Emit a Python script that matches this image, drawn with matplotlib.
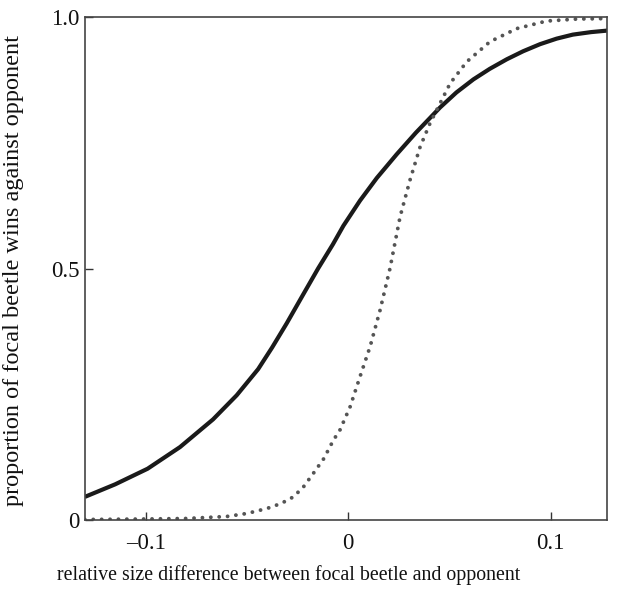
import matplotlib.pyplot as plt

plt.rcParams['font.family'] = ['Liberation Serif', 'DejaVu Serif']

# solid curve
solid_x = [-0.130, -0.115, -0.099, -0.083, -0.0667, -0.055, -0.0444, -0.0375, -0.0303,
           -0.0225, -0.0148, -0.0075, -0.0023, 0.0059, 0.0142, 0.024, 0.0335, 0.0454,
           0.0535, 0.0619, 0.070, 0.0784, 0.0865, 0.0948, 0.103, 0.111, 0.120, 0.128]
solid_y = [0.046, 0.071, 0.102, 0.145, 0.200, 0.248, 0.300, 0.343, 0.391,
           0.446, 0.500, 0.548, 0.585, 0.635, 0.680, 0.727, 0.770, 0.820,
           0.850, 0.876, 0.897, 0.916, 0.932, 0.946, 0.957, 0.965, 0.970, 0.973]

# dotted curve
dot_x = [-0.130, -0.100, -0.080, -0.070, -0.060, -0.050, -0.040, -0.033, -0.027, -0.022,
         -0.0171, -0.012, -0.0072, -0.004, 0.001, 0.0059, 0.0109, 0.0158, 0.0207, 0.0257,
         0.0306, 0.0356, 0.0405, 0.0454, 0.0504, 0.0586, 0.0701, 0.0833, 0.098, 0.113, 0.128]
dot_y = [0.001, 0.002, 0.003, 0.005, 0.007, 0.013, 0.023, 0.033, 0.046, 0.066,
         0.093, 0.122, 0.159, 0.179, 0.225, 0.285, 0.345, 0.417, 0.500, 0.603,
         0.676, 0.742, 0.789, 0.828, 0.868, 0.911, 0.951, 0.977, 0.992, 0.996, 0.997]

xticks = [-0.1, 0, 0.1]
xticklabels = ['\u20130.1', '0', '0.1']
yticks = [0, 0.5, 1.0]
yticklabels = ['0', '0.5', '1.0']

fig = plt.figure(figsize=(6.28, 5.89), dpi=100)
ax = fig.add_axes([0.1354, 0.1171, 0.8312, 0.854])

ax.plot(solid_x, solid_y, color='#1a1a1a', lw=3.0, solid_joinstyle='round',
        solid_capstyle='butt')
ax.plot(dot_x, dot_y, color='#555555', lw=2.8, linestyle=(0, (0.01, 2.15)),
        dash_capstyle='round')

ax.set_xlim(-0.1299, 0.1279)
ax.set_ylim(0, 1.0)
ax.set_xticks(xticks)
ax.set_xticklabels(xticklabels)
ax.set_yticks(yticks)
ax.set_yticklabels(yticklabels)
ax.tick_params(direction='in', length=6, width=1, colors='#333333', labelsize=16.5,
               labelcolor='#111111')
ax.tick_params(axis='x', pad=9)
ax.tick_params(axis='y', pad=4)
for s in ax.spines.values():
    s.set_color('#444444')
    s.set_linewidth(1.2)

fig.text(0.459, 0.0238, 'relative size difference between focal beetle and opponent',
         fontsize=14.3, color='#111111', ha='center', va='center')
fig.text(0.022, 0.54, 'proportion of focal beetle wins against opponent',
         fontsize=17.5, color='#111111', ha='center', va='center', rotation=90)

fig.savefig('out.png', dpi=100)
